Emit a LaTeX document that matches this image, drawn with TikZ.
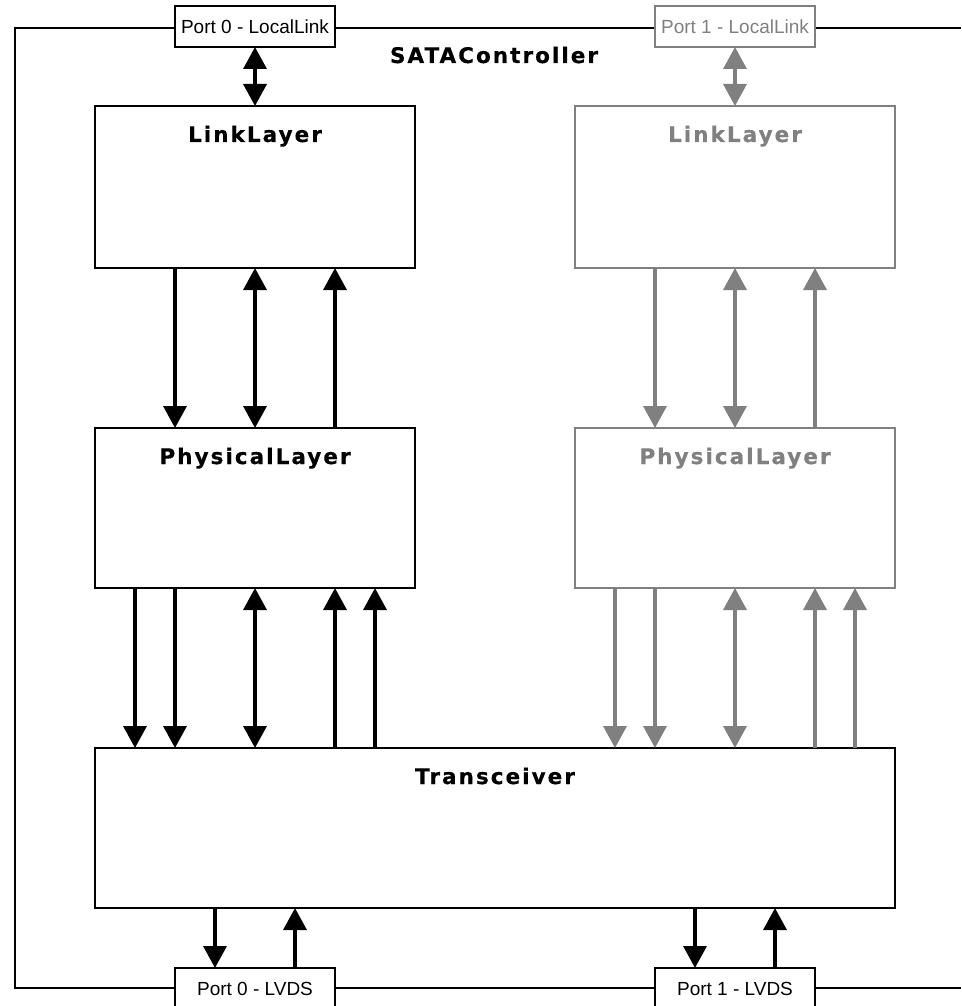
\documentclass[tikz,border=0pt]{standalone}
\usepackage{fontspec}
\usetikzlibrary{arrows.meta,calc}
\newfontfamily\titlefont[LetterSpace=9.5, BoldFeatures={FakeBold=0.5}]{DejaVu Sans}
\newfontfamily\portfont{Liberation Sans}
\definecolor{dim}{HTML}{808080}
\tikzset{
  block/.style={draw, line width=2pt, inner sep=0pt, outer sep=0pt, fill=white},
  port/.style={draw, line width=1.5pt, inner sep=0pt, outer sep=0pt, fill=white,
    minimum width=160pt, minimum height=41pt,
    font=\portfont\fontsize{19}{22}\selectfont},
  title/.style={anchor=base, inner sep=0pt, font=\titlefont\bfseries\fontsize{21.5}{25}\selectfont},
  faded/.style={draw=dim, text=dim},
  wire/.style={line width=3.5pt},
  dn/.style={wire, -{Triangle[length=22pt,width=23pt]}},
  bi/.style={wire, {Triangle[length=22pt,width=23pt]}-{Triangle[length=22pt,width=23pt]}},
}
\begin{document}
\begin{tikzpicture}[x=1pt,y=-1pt]
\useasboundingbox (0,0) rectangle (961,1006);

% controller frame, open on the right
\coordinate (ftr) at (961,28);
\coordinate (ftl) at (15,28);
\coordinate (fbl) at (15,988);
\coordinate (fbr) at (961,988);
\draw[line width=2.2pt] (ftr) -- (ftl) -- (fbl) -- (fbr);
\node[title] (ctrl) at (494,63) {SATAController};

% port 0 stack
\node[block, minimum width=320pt, minimum height=162pt] (LL0) at (255,187) {};
\node[block, minimum width=320pt, minimum height=160pt] (PL0) at (255,508) {};
% port 1 stack
\node[block, faded, minimum width=320pt, minimum height=162pt] (LL1) at (735,187) {};
\node[block, faded, minimum width=320pt, minimum height=160pt] (PL1) at (735,508) {};
% shared transceiver
\node[block, minimum width=800pt, minimum height=160pt] (TR) at (495,828) {};

\node[title] (LL0t) at ($(LL0.north)+(0,36)$) {LinkLayer};
\node[title] (PL0t) at ($(PL0.north)+(0,36)$) {PhysicalLayer};
\node[title, text=dim] (LL1t) at ($(LL1.north)+(0,36)$) {LinkLayer};
\node[title, text=dim] (PL1t) at ($(PL1.north)+(0,36)$) {PhysicalLayer};
\node[title] (TRt) at ($(TR.north)+(0,36)$) {Transceiver};

% ports on the frame
\node[port] (P0LL) at (255,26.5) {Port 0 - LocalLink};
\node[port, faded] (P1LL) at (735,26.5) {Port 1 - LocalLink};
\node[port] (P0LV) at (255,988.5) {Port 0 - LVDS};
\node[port] (P1LV) at (735,988.5) {Port 1 - LVDS};

% port 0 connections
\draw[bi] (P0LL.south) -- (LL0.north);
\draw[dn] ($(LL0.south)+(-80,0)$) -- ($(PL0.north)+(-80,0)$);
\draw[bi] (LL0.south) -- (PL0.north);
\draw[dn] ($(PL0.north)+(80,0)$) -- ($(LL0.south)+(80,0)$);
\draw[dn] ($(PL0.south)+(-120,0)$) -- ($(TR.north)+(-360,0)$);
\draw[dn] ($(PL0.south)+(-80,0)$) -- ($(TR.north)+(-320,0)$);
\draw[bi] (PL0.south) -- ($(TR.north)+(-240,0)$);
\draw[dn] ($(TR.north)+(-160,0)$) -- ($(PL0.south)+(80,0)$);
\draw[dn] ($(TR.north)+(-120,0)$) -- ($(PL0.south)+(120,0)$);

% port 1 connections
\begin{scope}[dim]
\draw[bi] (P1LL.south) -- (LL1.north);
\draw[dn] ($(LL1.south)+(-80,0)$) -- ($(PL1.north)+(-80,0)$);
\draw[bi] (LL1.south) -- (PL1.north);
\draw[dn] ($(PL1.north)+(80,0)$) -- ($(LL1.south)+(80,0)$);
\draw[dn] ($(PL1.south)+(-120,0)$) -- ($(TR.north)+(120,0)$);
\draw[dn] ($(PL1.south)+(-80,0)$) -- ($(TR.north)+(160,0)$);
\draw[bi] (PL1.south) -- ($(TR.north)+(240,0)$);
\draw[dn] ($(TR.north)+(320,0)$) -- ($(PL1.south)+(80,0)$);
\draw[dn] ($(TR.north)+(360,0)$) -- ($(PL1.south)+(120,0)$);
\end{scope}

% serial links
\draw[dn] ($(TR.south)+(-280,0)$) -- ($(P0LV.north)+(-40,0)$);
\draw[dn] ($(P0LV.north)+(40,0)$) -- ($(TR.south)+(-200,0)$);
\draw[dn] ($(TR.south)+(200,0)$) -- ($(P1LV.north)+(-40,0)$);
\draw[dn] ($(P1LV.north)+(40,0)$) -- ($(TR.south)+(280,0)$);
\end{tikzpicture}
\end{document}
